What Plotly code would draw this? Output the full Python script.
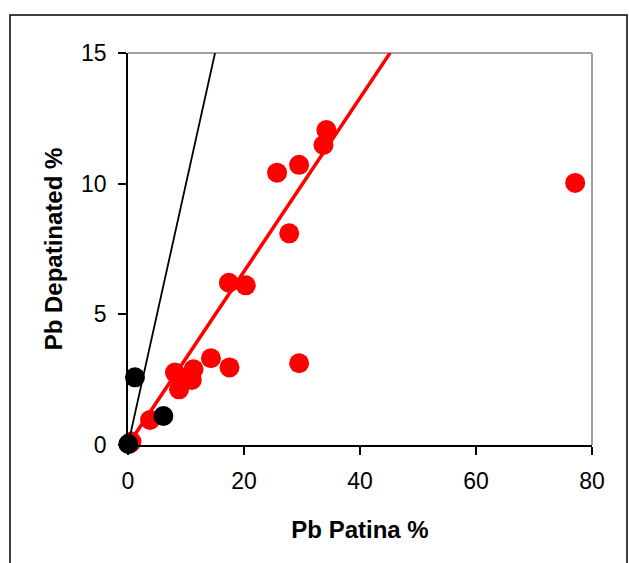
import plotly.graph_objects as go

# Data
red_x = [77.1, 34.2, 33.7, 29.5, 25.7, 27.8, 17.4, 20.3, 14.3, 17.5, 29.5,
         8.1, 11.3, 11.0, 8.8, 3.8, 0.6, 0.3]
red_y = [10.03, 12.05, 11.48, 10.72, 10.42, 8.10, 6.21, 6.11, 3.32, 2.97, 3.13,
         2.77, 2.90, 2.49, 2.13, 0.96, 0.13, 0.05]
black_x = [1.2, 6.1, 0.05]
black_y = [2.59, 1.11, 0.04]

# Reference lines
identity_x = [0, 15]          # y = x
fit_slope = 0.332             # fitted line through origin
fit_x = [0, 45.2]
fit_y = [fit_slope * v for v in fit_x]

x_ticks = [0, 20, 40, 60, 80]
y_ticks = [0, 5, 10, 15]

fig = go.Figure()
fig.add_trace(go.Scatter(x=red_x, y=red_y, mode="markers",
                         marker=dict(color="#ff0000", size=20, line=dict(width=0)),
                         cliponaxis=False, showlegend=False, hoverinfo="skip"))
fig.add_trace(go.Scatter(x=fit_x, y=fit_y, mode="lines",
                         line=dict(color="#ff0000", width=3.5), showlegend=False,
                         hoverinfo="skip"))
fig.add_trace(go.Scatter(x=identity_x, y=identity_x, mode="lines",
                         line=dict(color="#000000", width=1.8), showlegend=False,
                         hoverinfo="skip"))
fig.add_trace(go.Scatter(x=black_x, y=black_y, mode="markers",
                         marker=dict(color="#000000", size=20, line=dict(width=0)),
                         cliponaxis=False, showlegend=False, hoverinfo="skip"))

font_family = "Liberation Sans, Arial, sans-serif"

W, H = 629, 563
L, T = 128, 53           # plot area left/top
PW, PH = 464, 392        # plot area size

fig.update_layout(
    width=W, height=H,
    margin=dict(l=L, r=W - L - PW, t=T, b=H - T - PH),
    paper_bgcolor="white", plot_bgcolor="white",
    font=dict(family=font_family, color="black", size=23),
    xaxis=dict(range=[0, 80], tickvals=x_ticks, showgrid=False, zeroline=False,
               showline=True, linecolor="black", linewidth=1.5,
               ticks="outside", ticklen=8, tickcolor="black", tickwidth=1.5,
               ticklabelstandoff=7,
               title=dict(text="<b>Pb Patina %</b>", font=dict(size=24), standoff=28)),
    yaxis=dict(range=[0, 15], tickvals=y_ticks, showgrid=False, zeroline=False,
               showline=True, linecolor="black", linewidth=1.5,
               ticks="outside", ticklen=8, tickcolor="black", tickwidth=1.5,
               ticklabelstandoff=7,
               title=dict(text="<b>Pb Depatinated %</b>", font=dict(size=24), standoff=12)),
    shapes=[
        # gray top and right border of plot area
        dict(type="line", xref="paper", yref="paper", x0=0, x1=1, y0=1, y1=1,
             line=dict(color="#a0a0a0", width=2), layer="below"),
        dict(type="line", xref="paper", yref="paper", x0=1, x1=1, y0=0, y1=1,
             line=dict(color="#a0a0a0", width=2), layer="below"),
        # outer chart frame (page coords 10..627 x 15..bottom)
        dict(type="rect", xref="paper", yref="paper",
             x0=(10 - L) / PW, x1=(627 - L) / PW,
             y0=(T + PH - 580) / PH, y1=(T + PH - 15) / PH,
             line=dict(color="black", width=1.5), fillcolor="rgba(0,0,0,0)"),
    ],
)

fig.write_html(
    "out.html",
    config={"displayModeBar": False},
    post_script="document.body.style.margin='0';document.body.style.overflow='hidden';",
)
